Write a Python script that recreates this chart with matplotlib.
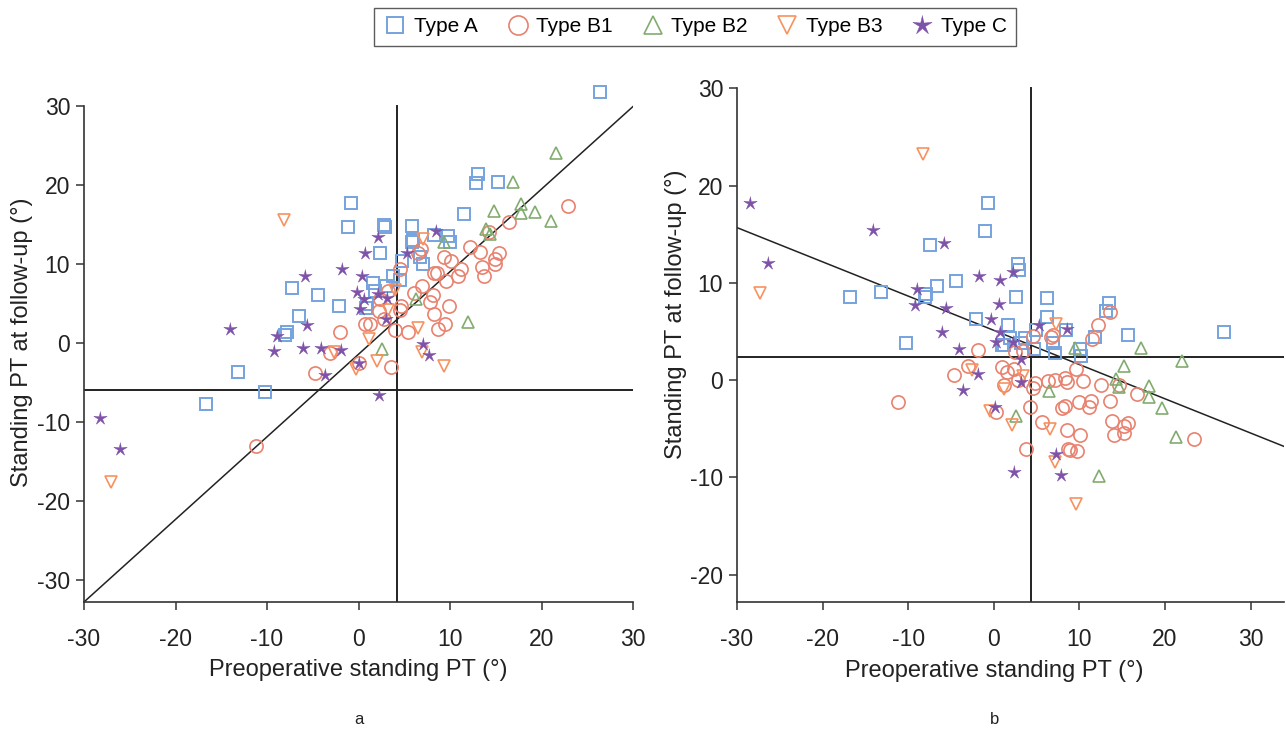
import matplotlib
matplotlib.use("Agg")
import matplotlib.pyplot as plt
from matplotlib.lines import Line2D
import numpy as np

plt.rcParams['font.family'] = ['Liberation Sans', 'DejaVu Sans']
plt.rcParams['axes.unicode_minus'] = False

# ---------------- Data: panel a (preop PT, follow-up PT) ----------------
a_A_x = [26.4, 13.1, 12.8, 15.3, -0.8, 11.5, -1.2, 2.8, 2.9, 5.9, 9.8, 10.0, 6.0, 5.9, 8.2, 2.4, 4.8, 7.0, 6.7,
         4.5, 3.8, 1.6, 1.8, 3.0, -4.4, -2.1, 0.9, 0.8, -6.5, -7.3, -7.8, -8.0, -13.2, -10.2, -16.7]
a_A_y = [31.7, 21.4, 20.2, 20.3, 17.7, 16.3, 14.6, 14.9, 14.6, 14.8, 13.5, 12.8, 13.0, 12.7, 13.6, 11.3, 10.3, 10.0, 10.9,
         8.0, 8.4, 7.6, 6.5, 7.2, 6.1, 4.6, 4.9, 4.4, 3.4, 6.9, 1.4, 1.0, -3.7, -6.2, -7.8]

a_B1_x = [22.9, 16.5, 14.3, 6.8, 6.5, 12.2, 13.3, 9.3, 10.1, 15.4, 14.9, 14.9, 11.2, 10.9, 13.5, 13.7, 8.2, 8.6, 9.6,
          4.5, 6.9, 6.1, 8.1, 7.8, 9.9, 8.3, 4.6, 4.5, 3.2, 2.4, 2.2, 2.8, 0.7, 1.3, 9.4, 8.7, 5.4, 4.0, -2.0,
          -3.1, 0.1, 3.6, -4.7, -11.2]
a_B1_y = [17.3, 15.3, 14.0, 11.9, 11.4, 12.1, 11.5, 10.9, 10.3, 11.4, 10.6, 10.0, 9.4, 8.5, 9.6, 8.4, 8.8, 8.8, 7.8,
          9.4, 7.2, 6.3, 6.1, 5.1, 4.6, 3.7, 4.6, 4.1, 6.6, 5.6, 4.0, 3.0, 2.4, 2.4, 2.4, 1.8, 1.4, 1.6, 1.4,
          -1.3, -2.6, -3.1, -3.8, -13.0]

a_B2_x = [21.6, 16.9, 14.8, 17.8, 17.8, 19.3, 21.0, 13.9, 14.4, 9.3, 6.3, 12.0, 2.6]
a_B2_y = [24.0, 20.4, 16.7, 17.5, 16.4, 16.6, 15.4, 14.4, 13.8, 12.8, 5.5, 2.6, -0.8]

a_B3_x = [7.1, 4.0, 3.2, 6.5, 1.1, -2.7, 2.0, -0.3, 6.9, 9.3, -8.1, -27.0]
a_B3_y = [13.1, 6.7, 4.2, 1.9, 0.5, -1.2, -2.3, -3.3, -1.2, -2.9, 15.6, -17.6]

a_C_x = [8.5, 2.1, 0.7, 5.3, -1.8, -5.8, 0.4, -0.2, 0.6, 2.1, 3.1, 0.2, 3.0, -5.6, -6.1, -4.1, -1.9, 0.1,
         -3.7, 7.1, 7.7, 2.2, -14.0, -8.9, -9.2, -28.2, -26.1]
a_C_y = [14.2, 13.4, 11.3, 11.3, 9.3, 8.5, 8.5, 6.4, 5.6, 6.2, 5.7, 4.3, 3.0, 2.2, -0.7, -0.6, -0.9, -2.5,
         -4.1, -0.2, -1.6, -6.6, 1.8, 0.9, -1.1, -9.5, -13.5]

# ---------------- Data: panel b ----------------
b_A_x = [-0.7, -1.0, -7.4, -16.8, -13.2, -7.9, -8.0, -6.6, -4.4, 2.8, 3.0, 2.6, -2.1, 1.6, 1.9, 0.9, 1.2, 3.7,
         3.2, -10.3, 6.2, 6.2, 4.9, 8.4, 4.7, 6.9, 7.1, 13.4, 13.1, 11.8, 15.7, 10.1, 10.2, 26.9]
b_A_y = [18.2, 15.3, 13.9, 8.6, 9.1, 8.9, 8.6, 9.7, 10.2, 11.9, 11.3, 8.6, 6.3, 5.7, 4.3, 3.6, 3.6, 4.3,
         3.8, 3.8, 8.5, 6.5, 5.2, 5.2, 3.2, 3.8, 2.8, 7.9, 7.1, 4.4, 4.6, 3.2, 2.5, 5.0]

b_B1_x = [-1.9, 2.5, 3.4, -3.0, 0.9, 1.5, 2.4, 2.8, 1.2, -4.7, -11.2, 4.6, 6.9, 6.7, 4.8, 4.6, 6.3, 7.1, 8.3,
          8.6, 4.2, 0.3, 8.3, 8.0, 5.6, 8.5, 3.8, 8.7, 13.6, 12.2, 11.5, 9.6, 10.4, 12.5, 14.6, 16.7, 13.6,
          9.9, 11.3, 11.1, 13.8, 15.7, 15.2, 15.2, 10.1, 14.0, 23.4, 8.9, 9.7]
b_B1_y = [3.1, 2.9, 3.0, 1.5, 1.4, 0.8, 1.2, 0.0, -0.5, 0.5, -2.2, 4.5, 4.7, 4.4, -0.3, -0.8, -0.1, 0.0, 0.2,
          -0.2, -2.8, -3.3, -2.6, -2.9, -4.3, -5.1, -7.1, -7.1, 7.0, 5.7, 4.2, 1.2, -0.1, -0.5, -0.5, -1.4, -2.1,
          -2.2, -2.1, -2.8, -4.2, -4.4, -4.7, -5.4, -5.6, -5.6, -6.0, -7.2, -7.3]

b_B2_x = [6.5, 2.6, 9.5, 17.2, 15.2, 22.0, 14.3, 14.6, 18.1, 18.1, 19.6, 21.3, 12.3]
b_B2_y = [-1.1, -3.7, 3.3, 3.3, 1.5, 2.0, 0.1, -0.7, -0.6, -1.7, -2.9, -5.8, -9.8]

b_B3_x = [-8.3, -27.3, -2.5, 1.2, 3.4, 7.3, -0.5, 2.1, 6.6, 7.1, 9.6]
b_B3_y = [23.3, 9.0, 1.1, -0.9, 0.4, 5.8, -3.2, -4.6, -5.0, -8.4, -12.7]

b_C_x = [-28.5, -26.4, -14.1, -5.8, -9.0, -9.2, -5.6, -6.0, -4.1, -1.7, 0.7, 2.2, 0.6, -0.3, 0.7, 0.2, 2.2,
         3.2, -1.8, -3.6, 3.2, 5.3, 8.6, 0.1, 7.3, 7.9, 2.4]
b_C_y = [18.2, 12.1, 15.4, 14.1, 9.4, 7.7, 7.4, 5.0, 3.2, 10.7, 10.3, 11.1, 7.8, 6.3, 5.0, 3.9, 3.9,
         2.2, 0.6, -1.0, -0.2, 5.7, 5.3, -2.8, -7.6, -9.7, -9.4]

# reference lines (mean preop, mean follow-up) and fitted lines (slope, intercept)
a_vline, a_hline = 4.25, -6.0
b_vline, b_hline = 4.3, 2.4
a_fit = (1.045, -1.45)
b_fit = (-0.352, 5.13)

type_labels = ['Type A', 'Type B1', 'Type B2', 'Type B3', 'Type C']
x_ticks = [-30, -20, -10, 0, 10, 20, 30]
a_y_ticks = [-30, -20, -10, 0, 10, 20, 30]
b_y_ticks = [-20, -10, 0, 10, 20, 30]

# thin five-pointed star marker
ang = np.pi / 2 + np.arange(10) * np.pi / 5
rad = np.where(np.arange(10) % 2 == 0, 1.0, 0.3)
star_verts = list(zip(rad * np.cos(ang), rad * np.sin(ang)))

# ---------------- Styles ----------------
styles = [
    dict(marker='s', ms=8.0, mfc='none', mec='#76a3de', mew=1.4),
    dict(marker='o', ms=9.5, mfc='none', mec='#e8826f', mew=1.2),
    dict(marker='^', ms=9.0, mfc='none', mec='#82ac6f', mew=1.2),
    dict(marker='v', ms=9.0, mfc='none', mec='#f7915e', mew=1.2),
    dict(marker=star_verts, ms=10, mfc='#7e52a8', mec='#7e52a8', mew=0.4),
]

W, H = 1286, 730
fig = plt.figure(figsize=(W / 100, H / 100), dpi=100)

def px_axes(x0, x1, y0, y1):
    return fig.add_axes([x0 / W, 1 - y1 / H, (x1 - x0) / W, (y1 - y0) / H])

ax_a = px_axes(84, 633, 82, 602)
ax_b = px_axes(737, 1284, 78.7, 602)

panels = [
    (ax_a, [(a_A_x, a_A_y), (a_B1_x, a_B1_y), (a_B2_x, a_B2_y), (a_B3_x, a_B3_y), (a_C_x, a_C_y)],
     (-30, 30), (-32.8, 33.0), a_y_ticks, a_vline, a_hline, a_fit, 'a', 0.5, 0.5, -0.093),
    (ax_b, [(b_A_x, b_A_y), (b_B1_x, b_B1_y), (b_B2_x, b_B2_y), (b_B3_x, b_B3_y), (b_C_x, b_C_y)],
     (-30, 33.9), (-22.8, 31.0), b_y_ticks, b_vline, b_hline, b_fit, 'b', 0.47, 0.55, -0.092),
]

for ax, series, xl, yl, yt, vx, hy, fit, letter, xlab_x, ylab_y, ylab_x in panels:
    ax.set_xlim(*xl)
    ax.set_ylim(*yl)
    # reference lines
    ax.plot([vx, vx], [yl[0], 30], color='#222222', lw=1.4, zorder=2)
    ax.plot([xl[0], xl[1]], [hy, hy], color='#222222', lw=1.4, zorder=2)
    # fitted line
    fx = [xl[0], xl[1]]
    fy = [fit[0] * v + fit[1] for v in fx]
    ax.plot(fx, fy, color='#222222', lw=1.1, zorder=2)
    for (sx, sy), st in zip(series, styles):
        ax.plot(sx, sy, ls='none', zorder=3, **st)
    for s in ['top', 'right']:
        ax.spines[s].set_visible(False)
    ax.spines['left'].set_bounds(yl[0], 30)
    for s in ['left', 'bottom']:
        ax.spines[s].set_color('#333333')
        ax.spines[s].set_linewidth(1.2)
    ax.set_xticks(x_ticks)
    ax.set_yticks(yt)
    ax.tick_params(direction='out', length=6, width=1.1, color='#333333',
                   labelsize=16.5, labelcolor='#222222')
    ax.tick_params(axis='x', pad=13)
    ax.tick_params(axis='y', pad=4)
    ax.set_xlabel('Preoperative standing PT (°)', fontsize=17, color='#222222')
    ax.set_ylabel('Standing PT at follow-up (°)', fontsize=17, color='#222222')
    ax.xaxis.set_label_coords(xlab_x, -0.11)
    ax.yaxis.set_label_coords(ylab_x, ylab_y)
    ax.text(xlab_x, -0.225, letter, transform=ax.transAxes, ha='center', va='center',
            fontsize=12, color='#222222')

handles = [Line2D([], [], ls='none', **st) for st in styles]
leg = fig.legend(handles, type_labels, loc='center', bbox_to_anchor=(695 / W, 1 - 27 / H),
                 ncol=5, frameon=True, fontsize=15, handletextpad=0.3, columnspacing=1.3,
                 borderpad=0.45, handlelength=1.2, markerscale=1.45, fancybox=False,
                 edgecolor='#333333')
leg.get_frame().set_linewidth(1.0)

fig.savefig('out.png', dpi=100)
